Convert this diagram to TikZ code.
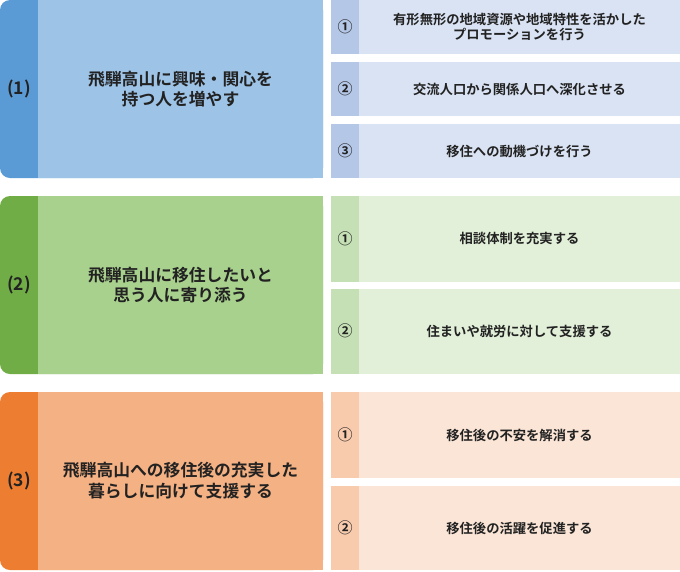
\documentclass[tikz,border=0pt]{standalone}
\usepackage{fontspec}
\setmainfont{Noto Sans CJK JP}[BoldFont={* Bold}]
\definecolor{dkA}{HTML}{5B9BD5}\definecolor{ltA}{HTML}{9DC3E6}\definecolor{stA}{HTML}{B4C7E7}\definecolor{bxA}{HTML}{DAE3F3}
\definecolor{dkB}{HTML}{70AD47}\definecolor{ltB}{HTML}{A9D18E}\definecolor{stB}{HTML}{C5E0B4}\definecolor{bxB}{HTML}{E2F0D9}
\definecolor{dkC}{HTML}{ED7D31}\definecolor{ltC}{HTML}{F4B183}\definecolor{stC}{HTML}{F8CBAD}\definecolor{bxC}{HTML}{FBE5D6}
\definecolor{txt}{HTML}{222222}
\begin{document}
\begin{tikzpicture}[x=1pt,y=-1pt,
  base/.style={rectangle,inner sep=0pt,outer sep=0pt,anchor=north west,text=txt,font=\bfseries},
  darkbox/.style={base,rounded corners=10pt,minimum width=323pt,minimum height=178pt},
  mainbox/.style={base,minimum width=285pt,minimum height=178pt,align=center,font=\bfseries\fontsize{16.8}{20}\selectfont},
  stripbox/.style={base,minimum width=28pt,font=\bfseries\fontsize{15}{16}\selectfont},
  subbox/.style={base,minimum width=321pt,align=center,font=\bfseries\fontsize{13.3}{15.5}\selectfont},
  numlbl/.style={inner sep=0pt,text=txt,font=\bfseries\fontsize{17.5}{19}\selectfont}]
\useasboundingbox (0,0) rectangle (680,571);
% group 1
\node[darkbox,fill=dkA] (d1) at (0,0) {};
\node[mainbox,fill=ltA] (m1) at (38,0) {飛騨高山に興味・関心を\\持つ人を増やす};
\node[numlbl] (n1) at (19,89) {(1)};
\node[stripbox,fill=stA,minimum height=54pt] (s11) at (331,0) {①};
\node[subbox,fill=bxA,minimum height=54pt] (b11) at (359,0) {有形無形の地域資源や地域特性を活かした\\プロモーションを行う};
\node[stripbox,fill=stA,minimum height=54pt] (s12) at (331,62) {②};
\node[subbox,fill=bxA,minimum height=54pt] (b12) at (359,62) {交流人口から関係人口へ深化させる};
\node[stripbox,fill=stA,minimum height=54pt] (s13) at (331,124) {③};
\node[subbox,fill=bxA,minimum height=54pt] (b13) at (359,124) {移住への動機づけを行う};
% group 2
\node[darkbox,fill=dkB] (d2) at (0,196) {};
\node[mainbox,fill=ltB] (m2) at (38,196) {飛騨高山に移住したいと\\思う人に寄り添う};
\node[numlbl] (n2) at (19,285) {(2)};
\node[stripbox,fill=stB,minimum height=85.5pt] (s21) at (331,196) {①};
\node[subbox,fill=bxB,minimum height=85.5pt] (b21) at (359,196) {相談体制を充実する};
\node[stripbox,fill=stB,minimum height=85.5pt] (s22) at (331,288.5) {②};
\node[subbox,fill=bxB,minimum height=85.5pt] (b22) at (359,288.5) {住まいや就労に対して支援する};
% group 3
\node[darkbox,fill=dkC] (d3) at (0,392) {};
\node[mainbox,fill=ltC,font=\bfseries\fontsize{16.8}{21}\selectfont] (m3) at (38,392) {飛騨高山への移住後の充実した\\暮らしに向けて支援する};
\node[numlbl] (n3) at (19,481) {(3)};
\node[stripbox,fill=stC,minimum height=86pt] (s31) at (331,392) {①};
\node[subbox,fill=bxC,minimum height=86pt] (b31) at (359,392) {移住後の不安を解消する};
\node[stripbox,fill=stC,minimum height=84pt] (s32) at (331,486) {②};
\node[subbox,fill=bxC,minimum height=84pt] (b32) at (359,486) {移住後の活躍を促進する};
\end{tikzpicture}
\end{document}
